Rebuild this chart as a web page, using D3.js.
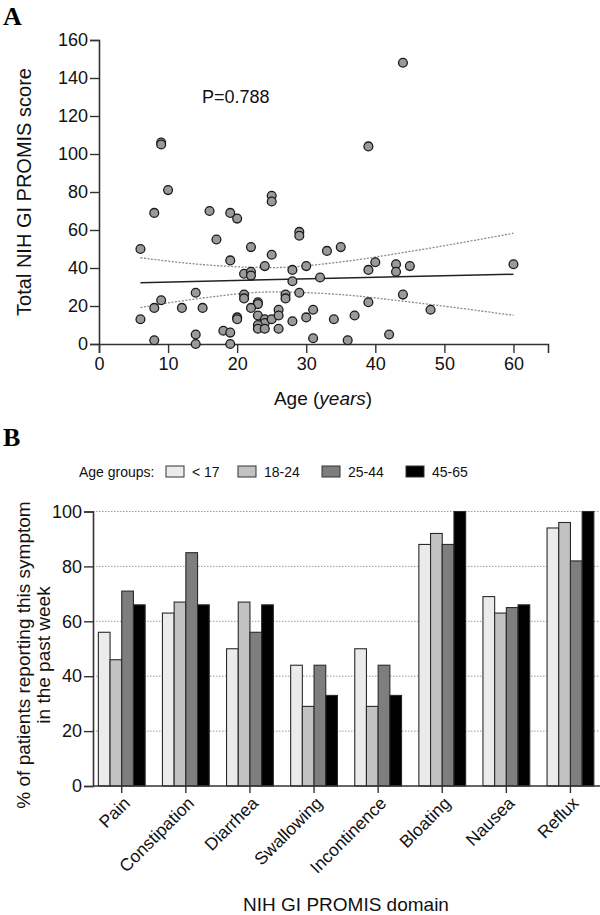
<!DOCTYPE html>
<html><head><meta charset="utf-8">
<script src="https://cdn.jsdelivr.net/npm/d3@7"></script>
<style>
body{margin:0;background:#fff;}
svg{display:block;font-family:"Liberation Sans",Arial,sans-serif;}
</style></head>
<body><svg id="c" width="600" height="915"></svg>
<script>
// ---------- Panel A data ----------
const ages = [10,8,16,19,20,25,25,17,6,22,29,29,25,19,24,30,28,21,22,22,28,32,14,9,8,12,15,21,21,27,27,29,23,23,22,6,20,20,23,24,24,25,26,26,28,30,31,23,23,24,26,18,19,14,14,19,8,31,9,9,44,39,33,35,40,39,43,43,45,60,44,39,48,34,37,36,42];
const scores = [81,69,70,69,66,78,75,55,50,51,59,57,47,44,41,41,39,37,38,36,33,35,27,23,19,19,19,26,24,26,24,27,22,21,19,13,14,13,15,13,11,13,18,15,12,14,18,10,8,8,8,7,6,5,0,0,2,3,106,105,148,104,49,51,43,39,42,38,41,42,26,22,18,13,15,2,5];
const xTicksA = [0,10,20,30,40,50,60];
const yTicksA = [0,20,40,60,80,100,120,140,160];
// regression line and 95% band
const fitAges = [6,60];
const fitScores = [32.3,36.7];
const bandAges = [6,15,25,35,45,60];
const bandUpper = [45.4,41.8,40.2,43.2,48.7,58.3];
const bandLower = [19.2,24.2,27.4,26.0,22.1,15.1];
const pText = "P=0.788";

// ---------- Panel B data ----------
const domains = ["Pain","Constipation","Diarrhea","Swallowing","Incontinence","Bloating","Nausea","Reflux"];
const groups = ["< 17","18-24","25-44","45-65"];
const under17 = [56,63,50,44,50,88,69,94];
const age18to24 = [46,67,67,29,29,92,63,96];
const age25to44 = [71,85,56,44,44,88,65,82];
const age45to65 = [66,66,66,33,33,100,66,100];
const groupColors = ["#ebebeb","#c2c2c2","#7e7e7e","#000000"];
const yTicksB = [0,20,40,60,80,100];

const svg = d3.select("#c");
const FONT = "'Liberation Sans',Arial,sans-serif";

// ================= Panel A =================
const xA = d3.scaleLinear().domain([0,65]).range([99,548]);
const yA = d3.scaleLinear().domain([0,160]).range([344,40]);

svg.append("text").attr("x",3).attr("y",25).attr("font-family","'Liberation Serif','Times New Roman',serif")
  .attr("font-weight","bold").attr("font-size",26).text("A");

const gxA = svg.append("g").attr("transform","translate(0,344)")
  .call(d3.axisBottom(xA).tickValues(xTicksA).tickSize(9).tickPadding(4).tickFormat(d3.format("d")));
const gyA = svg.append("g").attr("transform","translate(99,0)")
  .call(d3.axisLeft(yA).tickValues(yTicksA).tickSize(9).tickPadding(2).tickFormat(d3.format("d")));
[gxA,gyA].forEach(g=>{
  g.select(".domain").attr("stroke","#333").attr("stroke-width",1.6);
  g.selectAll(".tick line").attr("stroke","#333").attr("stroke-width",1.4);
  g.selectAll(".tick text").attr("font-family",FONT).attr("font-size",18).attr("fill","#111");
});

// confidence band
const bandLine = d3.line().curve(d3.curveMonotoneX);
svg.append("path").attr("d",bandLine(bandAges.map((a,i)=>[xA(a),yA(bandUpper[i])])))
  .attr("fill","none").attr("stroke","#8a8a8a").attr("stroke-width",1.3).attr("stroke-dasharray","2,1.5");
svg.append("path").attr("d",bandLine(bandAges.map((a,i)=>[xA(a),yA(bandLower[i])])))
  .attr("fill","none").attr("stroke","#8a8a8a").attr("stroke-width",1.3).attr("stroke-dasharray","2,1.5");
svg.append("path").attr("d",d3.line()(fitAges.map((a,i)=>[xA(a),yA(fitScores[i])])))
  .attr("fill","none").attr("stroke","#222").attr("stroke-width",1.5);

svg.append("g").selectAll("circle").data(ages).join("circle")
  .attr("cx",(d)=>xA(d)).attr("cy",(d,i)=>yA(scores[i])).attr("r",4.4)
  .attr("fill","#9a9a9a").attr("stroke","#1a1a1a").attr("stroke-width",1.3);

svg.append("text").attr("x",202).attr("y",103).attr("font-family",FONT).attr("font-size",18).attr("fill","#111").text(pText);

const xl = svg.append("text").attr("x",323).attr("y",405).attr("text-anchor","middle")
  .attr("font-family",FONT).attr("font-size",19).attr("fill","#111");
xl.append("tspan").text("Age (");
xl.append("tspan").attr("font-style","italic").text("years");
xl.append("tspan").text(")");

svg.append("text").attr("transform","translate(31,192) rotate(-90)").attr("text-anchor","middle")
  .attr("font-family",FONT).attr("font-size",20).attr("fill","#111").text("Total NIH GI PROMIS score");

// ================= Panel B =================
svg.append("text").attr("x",3).attr("y",446).attr("font-family","'Liberation Serif','Times New Roman',serif")
  .attr("font-weight","bold").attr("font-size",26).text("B");

// legend
const legY = 477;
svg.append("text").attr("x",79).attr("y",legY).attr("font-family",FONT).attr("font-size",14).attr("fill","#111").text("Age groups:");
const legX = [166,238,322,406];
groups.forEach((g,i)=>{
  svg.append("rect").attr("x",legX[i]).attr("y",466).attr("width",18).attr("height",11)
    .attr("fill",groupColors[i]).attr("stroke","#333").attr("stroke-width",1);
  svg.append("text").attr("x",legX[i]+26).attr("y",legY).attr("font-family",FONT).attr("font-size",14).attr("fill","#111").text(g);
});

const x0 = d3.scaleBand().domain(domains).range([89.7,602.5]).paddingInner(0.27).paddingOuter(0.135);
const x1 = d3.scaleBand().domain(groups).range([0,x0.bandwidth()]);
const yB = d3.scaleLinear().domain([0,100]).range([786,511.5]);

// grid
svg.append("g").selectAll("line").data(yTicksB.filter(d=>d>0)).join("line")
  .attr("x1",93).attr("x2",600).attr("y1",d=>yB(d)).attr("y2",d=>yB(d))
  .attr("stroke","#9a9a9a").attr("stroke-width",1).attr("stroke-dasharray","1.5,1.5");

const series = [under17,age18to24,age25to44,age45to65];
const bars = [];
domains.forEach((dom,i)=>groups.forEach((g,j)=>bars.push({dom,g,j,v:series[j][i]})));
svg.append("g").selectAll("rect").data(bars).join("rect")
  .attr("x",d=>x0(d.dom)+x1(d.g)).attr("width",x1.bandwidth())
  .attr("y",d=>yB(d.v)).attr("height",d=>yB(0)-yB(d.v))
  .attr("fill",d=>groupColors[d.j]).attr("stroke","#2a2a2a").attr("stroke-width",1.1);

const gyB = svg.append("g").attr("transform","translate(93,0)")
  .call(d3.axisLeft(yB).tickValues(yTicksB).tickSize(9).tickPadding(2).tickFormat(d3.format("d")));
gyB.select(".domain").attr("stroke","#333").attr("stroke-width",1.6);
gyB.selectAll(".tick line").attr("stroke","#333").attr("stroke-width",1.4);
gyB.selectAll(".tick text").attr("font-family",FONT).attr("font-size",18).attr("fill","#111");

// x axis
svg.append("line").attr("x1",93).attr("x2",600).attr("y1",786).attr("y2",786).attr("stroke","#333").attr("stroke-width",1.6);
const gxB = svg.append("g").attr("transform","translate(0,786)")
  .call(d3.axisBottom(x0).tickSize(7).tickFormat(""));
gxB.select(".domain").remove();
gxB.selectAll(".tick line").attr("stroke","#333").attr("stroke-width",1.4);
svg.append("g").selectAll("text").data(domains).join("text")
  .attr("transform",d=>`translate(${x0(d)+x0.bandwidth()/2+5},${800}) rotate(-45)`)
  .attr("text-anchor","end").attr("dy","0.35em")
  .attr("font-family",FONT).attr("font-size",17.5).attr("fill","#111").text(d=>d);

svg.append("text").attr("x",346).attr("y",911).attr("text-anchor","middle")
  .attr("font-family",FONT).attr("font-size",19).attr("fill","#111").text("NIH GI PROMIS domain");

svg.append("text").attr("transform","translate(30,655) rotate(-90)").attr("text-anchor","middle")
  .attr("font-family",FONT).attr("font-size",19).attr("fill","#111").text("% of patients reporting this symptom");
svg.append("text").attr("transform","translate(50,655) rotate(-90)").attr("text-anchor","middle")
  .attr("font-family",FONT).attr("font-size",19).attr("fill","#111").text("in the past week");
</script></body></html>
